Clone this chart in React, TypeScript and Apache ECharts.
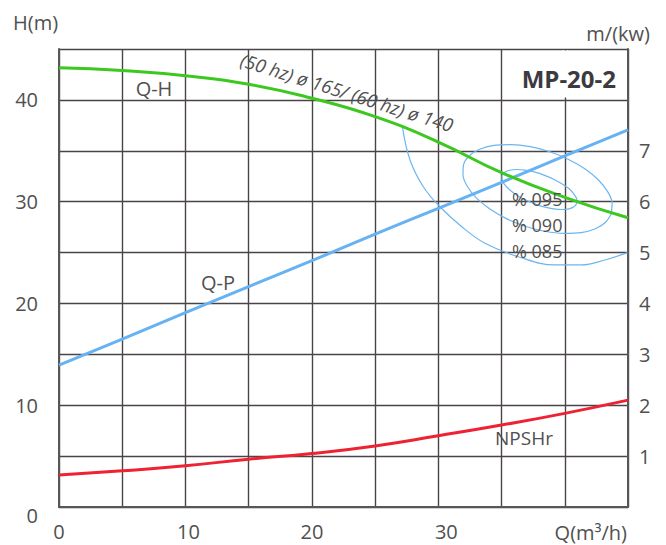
import React, { useEffect, useRef } from "react";
import * as echarts from "echarts";

// Flow rate (m3/h)
const FLOW = [0, 5, 10, 15, 20, 25, 30, 35, 40, 45];
// Q-H head curve (m), left axis
const HEAD = [43.16, 42.89, 42.37, 41.54, 40.16, 38.35, 35.86, 32.85, 30.43, 28.42];
// Q-P power curve (kW), right axis
const POWER = [2.79, 3.3, 3.82, 4.33, 4.84, 5.36, 5.87, 6.38, 6.9, 7.41];
// NPSHr (m), right axis
const NPSHR = [0.63, 0.71, 0.81, 0.94, 1.05, 1.2, 1.4, 1.61, 1.84, 2.1];

// Efficiency contours (Q, H)
const EFF95_Q = [40.94, 40.73, 40.33, 39.77, 39.1, 38.34, 37.57, 36.82, 36.15, 35.61, 35.23, 35.03, 35.04, 35.25, 35.65, 36.21, 36.88, 37.64, 38.41, 39.16, 39.83, 40.37, 40.75, 40.95, 40.94];
const EFF95_H = [29.8, 29.49, 29.3, 29.23, 29.3, 29.49, 29.81, 30.21, 30.69, 31.2, 31.7, 32.18, 32.59, 32.9, 33.09, 33.16, 33.09, 32.9, 32.58, 32.18, 31.7, 31.24, 30.69, 30.21, 29.8];
const EFF90_Q = [43.69, 43.23, 42.42, 41.29, 39.92, 38.42, 36.87, 35.39, 34.08, 33.02, 32.3, 31.95, 32.0, 32.45, 33.27, 34.4, 35.77, 37.27, 38.82, 40.3, 41.61, 42.66, 43.39, 43.74, 43.69];
const EFF90_H = [28.84, 27.98, 27.34, 26.96, 26.88, 27.09, 27.59, 28.33, 29.28, 30.35, 31.49, 32.62, 33.64, 34.51, 35.15, 35.53, 35.61, 35.4, 34.9, 34.15, 33.21, 32.13, 30.99, 29.87, 28.84];
const EFF85_Q = [27.15, 27.76, 28.81, 30.13, 31.85, 33.69, 36.33, 39.23, 41.34, 43.18, 44.95];
const EFF85_H = [37.45, 34.09, 31.47, 29.5, 27.54, 25.91, 24.59, 23.78, 23.78, 24.27, 24.99];

const X_LABELS = [0, 10, 20, 30];
const LEFT_LABELS = [10, 20, 30, 40];
const RIGHT_LABELS = [1, 2, 3, 4, 5, 6, 7];

const FONT = "'Open Sans', 'DejaVu Sans', sans-serif";
const TEXT = "#505050";
const GRID = "#4a4448";

const zip = (a: number[], b: number[]) => a.map((v, i) => [v, b[i]]);

export default function App() {
  const ref = useRef<HTMLDivElement>(null);
  useEffect(() => {
    if (!ref.current) return;
    const chart = echarts.init(ref.current, undefined, { renderer: "svg" });
    const thin = { color: "#6cb6f0", width: 1.2 };
    const txt = (x: number, y: number, text: string, extra: any = {}) => ({
      type: "text",
      x,
      y,
      z: 100,
      style: {
        text,
        fill: TEXT,
        font: `20px ${FONT}`,
        align: "center",
        verticalAlign: "middle",
        ...extra,
      },
    });
    const lab = { color: TEXT, fontSize: 20, fontFamily: FONT };
    chart.setOption({
      animation: false,
      backgroundColor: "#ffffff",
      grid: { left: 59, right: 38, top: 49, bottom: 38 },
      xAxis: {
        type: "value",
        min: 0,
        max: 45,
        interval: 5,
        axisLine: { show: true, lineStyle: { color: "#5a5658", width: 2 } },
        axisTick: { show: false },
        splitLine: { show: true, lineStyle: { color: GRID, width: 1.4 } },
        axisLabel: {
          margin: 14,
          ...lab,
          formatter: (v: number) => {
            if (!X_LABELS.includes(v)) return "";
            if (v === 10) return `{a|${v}}`;
            if (v === 30) return `{b|${v}}`;
            return String(v);
          },
          rich: {
            a: { ...lab, padding: [0, 0, 0, 6] },
            b: { ...lab, padding: [0, 0, 0, 16] },
          },
        },
      },
      yAxis: [
        {
          type: "value",
          min: 0,
          max: 45,
          interval: 5,
          axisLine: { show: true, lineStyle: { color: "#5a5658", width: 2 } },
          axisTick: { show: false },
          splitLine: { show: true, lineStyle: { color: GRID, width: 1.4 } },
          axisLabel: {
            margin: 21,
            ...lab,
            formatter: (v: number) => (LEFT_LABELS.includes(v) ? String(v) : ""),
          },
        },
        {
          type: "value",
          min: 0,
          max: 9,
          interval: 1,
          position: "right",
          axisLine: { show: true, onZero: false, lineStyle: { color: "#5a5658", width: 2 } },
          axisTick: { show: false },
          splitLine: { show: false },
          axisLabel: {
            margin: 11,
            ...lab,
            formatter: (v: number) => (RIGHT_LABELS.includes(v) ? String(v) : ""),
          },
        },
      ],
      series: [
        {
          name: "Q-H",
          type: "line",
          yAxisIndex: 0,
          smooth: true,
          showSymbol: false,
          data: zip(FLOW, HEAD),
          lineStyle: { color: "#3cc81e", width: 3 },
          z: 5,
        },
        {
          name: "Q-P",
          type: "line",
          yAxisIndex: 1,
          smooth: true,
          showSymbol: false,
          data: zip(FLOW, POWER),
          lineStyle: { color: "#66b2f2", width: 3 },
          z: 4,
        },
        {
          name: "NPSHr",
          type: "line",
          yAxisIndex: 1,
          smooth: true,
          showSymbol: false,
          data: zip(FLOW, NPSHR),
          lineStyle: { color: "#ee2233", width: 3 },
          z: 4,
        },
        {
          name: "95",
          type: "line",
          yAxisIndex: 0,
          smooth: 0.3,
          showSymbol: false,
          data: zip(EFF95_Q, EFF95_H),
          lineStyle: thin,
          z: 3,
        },
        {
          name: "90",
          type: "line",
          yAxisIndex: 0,
          smooth: 0.3,
          showSymbol: false,
          data: zip(EFF90_Q, EFF90_H),
          lineStyle: thin,
          z: 3,
        },
        {
          name: "85",
          type: "line",
          yAxisIndex: 0,
          smooth: 0.4,
          showSymbol: false,
          data: zip(EFF85_Q, EFF85_H),
          lineStyle: thin,
          z: 3,
        },
      ],
      graphic: [
        {
          type: "rect",
          z: 90,
          shape: { x: 562, y: 50.5, width: 6, height: 47 },
          style: { fill: "#ffffff" },
        },
        txt(13, 22, "H(m)", { align: "left" }),
        txt(650, 33, "m/(kw)", { align: "right" }),
        txt(616, 78, "MP-20-2", { align: "right", font: `bold 24px ${FONT}`, fill: "#3d3a3f" }),
        txt(38, 515, "0", { align: "right" }),
        txt(627, 532, "Q(m³/h)", { align: "right" }),
        txt(154, 88, "Q-H"),
        txt(218, 282, "Q-P"),
        txt(524, 438, "NPSHr", { font: `19px ${FONT}` }),
        txt(512, 199, "% 095", { align: "left", font: `18px ${FONT}` }),
        txt(512, 225, "% 090", { align: "left", font: `18px ${FONT}` }),
        txt(512, 251, "% 085", { align: "left", font: `18px ${FONT}` }),
        {
          type: "text",
          x: 347,
          y: 92,
          z: 100,
          rotation: -0.305,
          style: {
            text: "(50 hz) ø 165/ (60 hz) ø 140",
            fill: TEXT,
            font: `italic 18.5px ${FONT}`,
            align: "center",
            verticalAlign: "middle",
          },
        },
      ],
    });
    return () => chart.dispose();
  }, []);
  return (
    <div
      ref={ref}
      style={{ position: "absolute", left: 0, top: 0, width: 666, height: 545, background: "#fff" }}
    />
  );
}
